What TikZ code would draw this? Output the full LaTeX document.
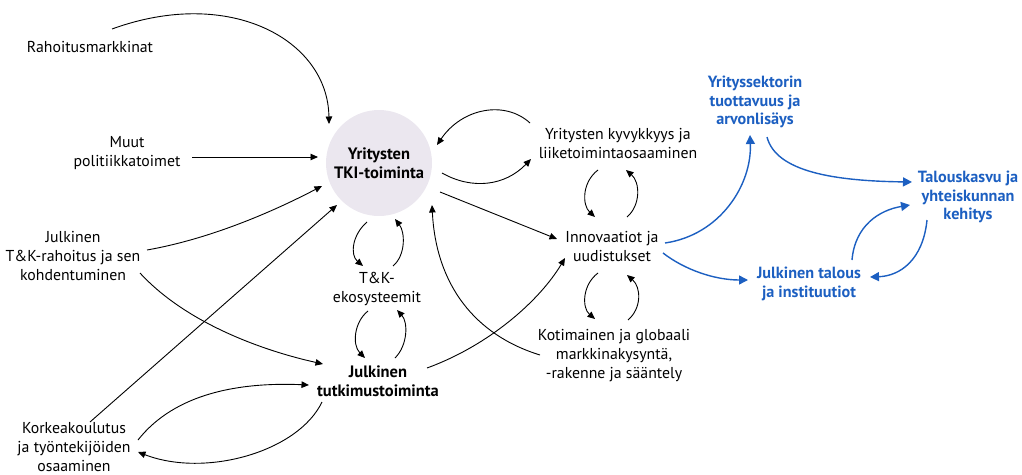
\documentclass[tikz,border=0pt]{standalone}
\usepackage{fontspec}
\setmainfont{PT Sans}
\usetikzlibrary{arrows.meta,calc}
\definecolor{circfill}{HTML}{EBE7EF}
\definecolor{dblue}{HTML}{1C5FC1}
\begin{document}
\begin{tikzpicture}[x=1pt,y=-1pt,
  lbl/.style={align=center,font=\fontsize{15.8}{19}\selectfont,inner sep=0pt},
  blbl/.style={lbl,font=\fontsize{16.5}{19.5}\selectfont\bfseries},
  bluelbl/.style={lbl,font=\fontsize{16.2}{18.5}\selectfont\bfseries,text=dblue},
  arr/.style={-{Triangle[length=7.5pt,width=6.5pt]},line width=0.9pt,black},
  barr/.style={-{Triangle[length=9pt,width=9pt]},line width=1.4pt,dblue}]
\useasboundingbox (0,0) rectangle (1022,474);
% nodes
\node[lbl] (rah) at (90,47) {Rahoitusmarkkinat};
\node[lbl] (muut) at (127,153) {Muut\\politiikkatoimet};
\node[lbl] (jtk) at (73,256) {Julkinen\\T\&K-rahoitus ja sen\\kohdentuminen};
\node[lbl] (kork) at (74,447) {Korkeakoulutus\\ja työntekijöiden\\osaaminen};
\node[circle,fill=circfill,minimum size=106pt,inner sep=0pt] (tki) at (379,163) {};
\node[blbl] at (tki) {Yritysten\\TKI-toiminta};
\node[lbl] (tke) at (377,289) {T\&K-\\ekosysteemit};
\node[blbl] (jtut) at (378,381) {Julkinen\\tutkimustoiminta};
\node[lbl] (kyv) at (618,143) {Yritysten kyvykkyys ja\\liiketoimintaosaaminen};
\node[lbl] (inn) at (612,246) {Innovaatiot ja\\uudistukset};
\node[lbl] (kot) at (614,356) {Kotimainen ja globaali\\markkinakysyntä,\\-rakenne ja sääntely};
\node[bluelbl] (ysek) at (755,102) {Yrityssektorin\\tuottavuus ja\\arvonlisäys};
\node[bluelbl] (tal) at (968,197) {Talouskasvu ja\\yhteiskunnan\\kehitys};
\node[bluelbl] (jtal) at (809,284) {Julkinen talous\\ja instituutiot};
% black connectors
\draw[arr] ($(rah)+(22,-18)$) .. controls (230,-14) and (328,40) .. ($(tki)+(-50,-39)$);
\draw[arr] ($(muut)+(65,4)$) -- ($(tki)+(-61,-6)$);
\draw[arr] ($(jtk)+(74,-6)$) .. controls (215,238) and (280,208) .. ($(tki)+(-57,23)$);
\draw[arr] ($(kork)+(16,-25)$) -- ($(tki)+(-42,42)$);
\draw[arr] ($(jtk)+(67,17)$) .. controls (185,322) and (260,350) .. ($(jtut)+(-55,-17)$);
\draw[arr] ($(kork)+(64,-7)$) .. controls (175,393) and (240,382) .. ($(jtut)+(-69,4)$);
\draw[arr] ($(jtut)+(-56,21)$) .. controls (298,452) and (205,478) .. ($(kork)+(64,5)$);
\draw[arr] ($(tki)+(-12,59)$) .. controls (352,235) and (350,255) .. ($(tke)+(-14,-23)$);
\draw[arr] ($(tke)+(16,-23)$) .. controls (406,255) and (405,232) .. ($(tki)+(16,56)$);
\draw[arr] ($(tke)+(-9,22)$) .. controls (354,322) and (352,345) .. ($(jtut)+(-13,-23)$);
\draw[arr] ($(jtut)+(17,-23)$) .. controls (408,345) and (408,322) .. ($(tke)+(20,21)$);
\draw[arr] ($(kot)+(-74,-1)$) .. controls (475,335) and (436,285) .. ($(tki)+(53,42)$);
\draw[arr] ($(jtut)+(49,-13)$) .. controls (490,345) and (540,300) .. ($(inn)+(-47,12)$);
\draw[arr] ($(tki)+(61,29)$) -- ($(inn)+(-55,-7)$);
\draw[arr] ($(kyv)+(-88,-20)$) .. controls (505,100) and (462,108) .. ($(tki)+(58,-18)$);
\draw[arr] ($(tki)+(63,10)$) .. controls (472,190) and (505,186) .. ($(kyv)+(-87,16)$);
\draw[arr] ($(kyv)+(-20,27)$) .. controls (582,182) and (582,205) .. ($(inn)+(-17,-29)$);
\draw[arr] ($(inn)+(15,-29)$) .. controls (641,205) and (640,182) .. ($(kyv)+(8,27)$);
\draw[arr] ($(inn)+(-14,27)$) .. controls (582,285) and (582,308) .. ($(kot)+(-19,-37)$);
\draw[arr] ($(kot)+(14,-36)$) .. controls (642,308) and (641,287) .. ($(inn)+(15,29)$);
% blue connectors
\draw[barr] ($(inn)+(53,-3)$) .. controls (720,235) and (752,185) .. ($(ysek)+(-5,33)$);
\draw[barr] ($(inn)+(51,7)$) .. controls (685,270) and (715,280) .. ($(jtal)+(-61,-4)$);
\draw[barr] ($(ysek)+(12,35)$) .. controls (776,172) and (835,181) .. ($(tal)+(-56,-15)$);
\draw[barr] ($(jtal)+(43,-24)$) .. controls (855,225) and (880,210) .. ($(tal)+(-58,8)$);
\draw[barr] ($(tal)+(-41,23)$) .. controls (923,260) and (900,276) .. ($(jtal)+(61,-7)$);
\end{tikzpicture}
\end{document}
